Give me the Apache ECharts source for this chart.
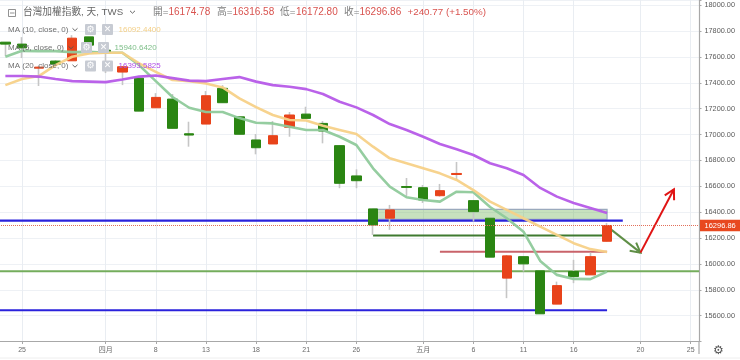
<!DOCTYPE html>
<html><head><meta charset="utf-8">
<style>html,body{margin:0;padding:0;background:#fff}#c{width:740px;height:360px}</style>
<script src="https://cdn.jsdelivr.net/npm/echarts@6/dist/echarts.min.js"></script>
</head><body><div id="c"></div>
<script>
const categories = ['','25','','','','','四月','','','8','','','13','','','18','','','21','','','26','','','','五月','','','6','','','11','','','16','','','','20','','','25'];
const opens  = [17714,17699,17513,17568,17570,17755,17652,17483,17436,17207,17274,17006,17081,17357,17137,16958,16927,17056,17158,17086,16914,16680,16425,16353,16598,16589,16527,16691,16489,16353,15890,16056,15946,15689,15941,15915,16174.78];
const closes = [17699,17670,17521,17544,17745,17691,17629,17524,17181,17287,17048,16996,17300,17246,17002,16898,16991,17151,17125,17027,16623,16643,16301,16417,16591,16494,16566,16699,16404,16052,16062,16000,15614,15832,15902,16056,16296.86];
const lows   = [17606,17591,17375,17540,17570,17691,17475,17382,17181,17207,17048,16906,17081,17246,17002,16847,16927,16983,17125,16932,16585,16585,16224,16263,16525,16471,16520,16649,16327,16052,15735,15941,15614,15689,15851,15915,16172.80];
const highs  = [17714,17753,17531,17575,17768,17755,17660,17530,17436,17320,17313,17099,17336,17382,17137,17004,17104,17174,17215,17104,16914,16731,16425,16456,16664,16610,16618,16788,16489,16353,16069,16056,15946,15863,16031,16087,16316.58];
const ma5  = [17601,17647,17645,17645,17637,17639,17632,17632,17537,17413,17290,17207,17174,17174,17127,17091,17086,17060,17035,17035,16983,16919,16739,16597,16515,16494,16481,16558,16554,16440,16353,16249,16023,15915,15884,15882,15940.64];
const ma10 = [17382,17429,17452,17537,17601,17627,17632,17632,17550,17485,17421,17413,17395,17364,17280,17212,17151,17112,17108,17068,17035,17004,16906,16816,16778,16739,16700,16649,16571,16481,16417,16353,16288,16224,16160,16114,16092.44];
const ma20 = [17452,17452,17448,17429,17413,17409,17405,17425,17448,17456,17436,17417,17413,17429,17444,17409,17382,17369,17351,17313,17253,17210,17151,17081,17035,16983,16927,16886,16842,16778,16739,16687,16587,16520,16471,16432,16393.58];
const lastClose = 16296.86;
const blueUpper = 16334, blueLower = 15642, greenLevel = 15944, darkGreenLevel = 16219, redLevel = 16093;
const zoneTop = 16422, zoneBottom = 16345;
const zoneStart = 22, lineEnd = 36, blueEnd = 37, redStart = 26;
const greenArrow = [[36,16290],[38,16087]];
const redArrow = [[38,16087],[40,16577]];
const yTicksMin = 15400, yTicksMax = 18040, yInterval = 200;

const chartFont = '"Liberation Sans","Noto Sans CJK TC",sans-serif';
const tickOn = (i, v) => categories[i] !== '';
const C_UP = '#e8431a', C_DOWN = '#2a8512';

function ohlc(i){ return [opens[i], closes[i], lows[i], highs[i]]; }
function body(i){ return [opens[i], closes[i], Math.min(opens[i],closes[i]), Math.max(opens[i],closes[i])]; }

function arrowShape(api, seg, color, width){
  const a = api.coord(seg[0]), b = api.coord(seg[1]);
  const ang = Math.atan2(b[1]-a[1], b[0]-a[0]), L = 11, sp = 0.5;
  return [
    {type:'line', shape:{x1:a[0],y1:a[1],x2:b[0],y2:b[1]}, style:{stroke:color,lineWidth:width}},
    {type:'polyline', shape:{points:[
      [b[0]-L*Math.cos(ang-sp), b[1]-L*Math.sin(ang-sp)], b,
      [b[0]-L*Math.cos(ang+sp), b[1]-L*Math.sin(ang+sp)]]}, style:{stroke:color,lineWidth:width,fill:'none'}}
  ];
}
function renderDrawings(params, api){
  const left = params.coordSys.x, right = params.coordSys.x + params.coordSys.width;
  const X = i => api.coord([i, 16000])[0], Y = v => api.coord([0, v])[1];
  const h = (x1, x2, v, stroke, w) => ({type:'line', shape:{x1, y1:Y(v), x2, y2:Y(v)}, style:{stroke, lineWidth:w}});
  return {type:'group', children:[
    {type:'rect', shape:{x:X(zoneStart), y:Y(zoneTop), width:X(lineEnd)-X(zoneStart), height:Y(zoneBottom)-Y(zoneTop)},
      style:{fill:'rgba(122,184,100,0.42)', stroke:'#9aa9bd', lineWidth:1.2}},
    h(left, X(blueEnd)-1, blueUpper, '#2a22dc', 2.2),
    h(left, X(lineEnd), blueLower, '#2a22dc', 2),
    h(left, right, greenLevel, '#74ad5c', 2),
    h(X(zoneStart), X(lineEnd), darkGreenLevel, '#3f7a30', 2),
    h(X(redStart), X(lineEnd), redLevel, '#c9636a', 2),
    ...arrowShape(api, greenArrow, '#5f8f46', 2),
    ...arrowShape(api, redArrow, '#e01414', 2)
  ]};
}

const gray = '#7d7d7d', redTxt = '#d9534f';
function txt(x, y, text, fill, size){
  return {type:'text', x, y, z:100, silent:true, style:{text, fill, font: size+'px '+chartFont, textVerticalAlign:'middle'}};
}
function chevron(x, y){
  return {type:'polyline', z:100, silent:true, shape:{points:[[x-2.5,y-1.2],[x,y+1.2],[x+2.5,y-1.2]]}, style:{stroke:'#555',lineWidth:0.9,fill:'none'}};
}
function iconBox(x, y, glyph){
  return [
    {type:'rect', z:99, silent:true, shape:{x, y, width:11, height:11, r:1}, style:{fill:'#c7cbd3'}},
    {type:'text', z:100, silent:true, x:x+5.5, y:y+5.5, style:{text:glyph, fill:'#fff', font:'bold 9px "DejaVu Sans"', textAlign:'center', textVerticalAlign:'middle'}}
  ];
}
const legendRows = [
  {y:29.5, label:'MA (10, close, 0)', value:'16092.4400', color:'#f3cf87', cx:75, g:85, v:118.5},
  {y:47.5, label:'MA (5, close, 0)',  value:'15940.6420', color:'#7fbf8a', cx:71, g:81, v:114.5},
  {y:66,   label:'MA (20, close, 0)', value:'16393.5825', color:'#b14fe6', cx:75, g:85, v:118.5}
];
const graphics = [
  {type:'rect', z:100, silent:true, shape:{x:8.5,y:9.5,width:7,height:7}, style:{fill:'none',stroke:'#777',lineWidth:0.8}},
  {type:'line', z:100, silent:true, shape:{x1:10,y1:13,x2:14.5,y2:13}, style:{stroke:'#777',lineWidth:0.8}},
  txt(23, 12.5, '台灣加權指數, 天, TWS', '#666', 9.7),
  chevron(132.5, 12),
  txt(153, 12.5, '開=', gray, 9.7), txt(168.5, 12.5, '16174.78', redTxt, 10),
  txt(217, 12.5, '高=', gray, 9.7), txt(232.5, 12.5, '16316.58', redTxt, 10),
  txt(280, 12.5, '低=', gray, 9.7), txt(296, 12.5, '16172.80', redTxt, 10),
  txt(344, 12.5, '收=', gray, 9.7), txt(359.5, 12.5, '16296.86', redTxt, 10),
  txt(407.5, 12.5, '+240.77 (+1.50%)', redTxt, 9.8),
  {type:'line', z:100, silent:true, shape:{x1:699,y1:341,x2:699,y2:354}, style:{stroke:'#a8a8a8',lineWidth:1.2}},
  {type:'line', z:100, silent:true, shape:{x1:0,y1:358,x2:740,y2:358}, style:{stroke:'#eeeeee',lineWidth:1}},
  {type:'text', z:100, silent:true, x:718.5, y:351, style:{text:'⚙', fill:'#555', font:'12px "DejaVu Sans"', textAlign:'center', textVerticalAlign:'middle'}}
];
legendRows.forEach(r => {
  graphics.push(txt(8, r.y, r.label, '#707070', 8), chevron(r.cx, r.y),
    ...iconBox(r.g, r.y-5.5, '⚙'), ...iconBox(r.g+17, r.y-5.5, '✕'),
    txt(r.v, r.y, r.value, r.color, 8));
});

const idx = opens.map((_, i) => i);
const chart = echarts.init(document.getElementById('c'), null, {renderer:'canvas'});
const maLine = (name, data, color, w) => ({
  type:'line', name, data, z:5, symbol:'none', smooth:false, silent:true,
  lineStyle:{color, width:w, opacity:0.95, join:'round'}
});
chart.setOption({
  animation:false,
  backgroundColor:'#fff',
  textStyle:{fontFamily:chartFont},
  grid:{left:-3, top:0, width:702, height:341.5, containLabel:false, outerBoundsMode:'none'},
  xAxis:{
    type:'category', data:categories, boundaryGap:true,
    axisLine:{show:true, lineStyle:{color:'#a8a8a8', width:1.2}},
    axisTick:{show:true, alignWithLabel:true, interval:tickOn, length:2.5, lineStyle:{color:'#a8a8a8'}},
    axisLabel:{show:true, interval:tickOn, color:'#6a6a6a', fontSize:7, margin:5.5, hideOverlap:false},
    splitLine:{show:true, alignWithLabel:true, interval:tickOn, lineStyle:{color:'#e9edf2', width:1}}
  },
  yAxis:{
    type:'value', position:'right', min:yTicksMin, max:yTicksMax, interval:yInterval, scale:true,
    axisLine:{show:true, lineStyle:{color:'#a8a8a8', width:1.2}},
    axisTick:{show:true, length:2.5, lineStyle:{color:'#a8a8a8'}},
    axisLabel:{color:'#5a5a5a', fontSize:7.3, margin:5.5, showMinLabel:true, showMaxLabel:true,
      formatter:v => (v < 15500 || v > 18000) ? '' : v.toFixed(2)},
    splitLine:{show:true, lineStyle:{color:'#eef1f5', width:1}}
  },
  series:[
    {type:'custom', name:'drawings', data:[[0,16000]], renderItem:renderDrawings, clip:true, silent:true, z:1,
     encode:{x:0,y:1}},
    {type:'candlestick', name:'wicks', z:2, barWidth:1, silent:true,
     itemStyle:{color:'#c6c6c6', color0:'#c6c6c6', borderColor:'#c6c6c6', borderColor0:'#c6c6c6', borderWidth:1.6},
     data:idx.map(ohlc)},
    {type:'candlestick', name:'台灣加權指數', z:3, barWidth:10, silent:true,
     itemStyle:{color:C_UP, color0:C_DOWN, borderColor:C_UP, borderColor0:C_DOWN, borderWidth:1},
     data:idx.map(body),
     markLine:{silent:true, symbol:'none', animation:false,
       lineStyle:{color:'#e2705a', type:'dotted', width:1},
       label:{position:'end', distance:1, formatter:() => lastClose.toFixed(2), color:'#fff', fontSize:7.5,
         backgroundColor:'#e8481f', padding:[2.2,4.5,2,4.5]},
       data:[{yAxis:lastClose}]}},
    maLine('MA 5', ma5, '#8fca9b', 2.6),
    maLine('MA 10', ma10, '#f7d188', 2.6),
    maLine('MA 20', ma20, '#b65ae8', 2.6)
  ],
  graphic:{elements:graphics}
});
</script></body></html>
